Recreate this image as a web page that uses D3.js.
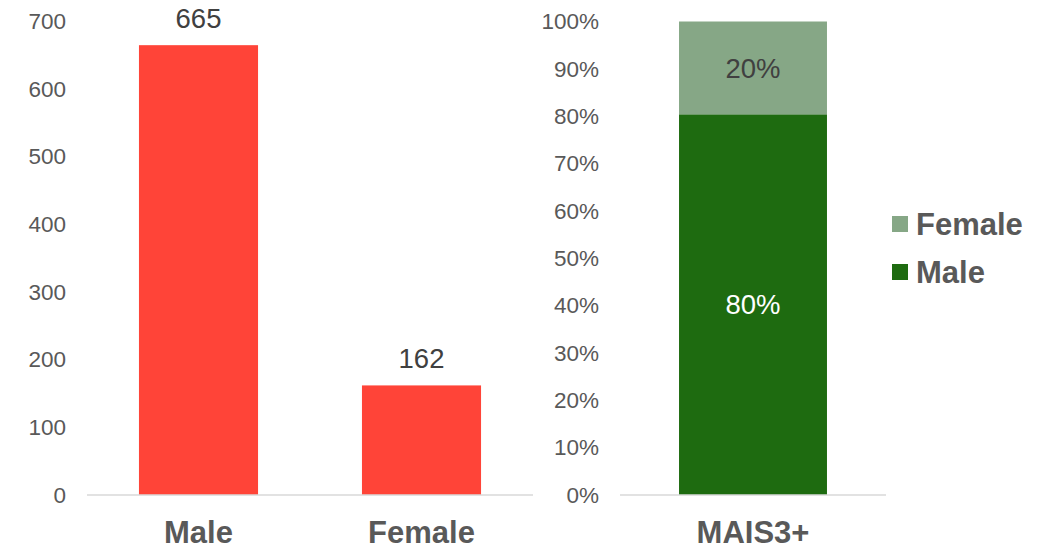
<!DOCTYPE html>
<html>
<head>
<meta charset="utf-8">
<script src="https://cdn.jsdelivr.net/npm/d3@7"></script>
<style>
  body { margin: 0; background: #fff; }
  svg { font-family: Arial, "Liberation Sans", sans-serif; display: block; }
</style>
</head>
<body>
<svg width="1043" height="549"></svg>
<script>
// left chart: counts
var countCats = ["Male", "Female"];
var countVals = [665, 162];
var countTicks = [0, 100, 200, 300, 400, 500, 600, 700];

// right chart: share within MAIS3+
var shareCats = ["MAIS3+"];
var shareSeries = ["Male", "Female"];
var shareVals = [80.4, 19.6];
var shareLabels = ["80%", "20%"];
var shareTicks = [0, 10, 20, 30, 40, 50, 60, 70, 80, 90, 100];
var legendOrder = ["Female", "Male"];

var svg = d3.select("svg");
var colors = { bar: "#FF4438", Male: "#1E6B10", Female: "#86A786" };
var plotBottom = 495, plotTop = 21.5; // "top" is taken by window.top

// ---- LEFT
var xL = d3.scaleBand().domain(countCats).range([87, 533]).paddingInner(0.466).paddingOuter(0.233);
var yL = d3.scaleLinear().domain([0, 700]).range([plotBottom, plotTop]);

var left = svg.append("g");
left.append("g")
  .attr("transform", "translate(66,0)")
  .call(d3.axisLeft(yL).tickValues(countTicks).tickSize(0).tickPadding(0))
  .call(function(g) { g.select(".domain").remove(); })
  .selectAll("text")
  .attr("font-size", 22.5).attr("fill", "#595959").attr("font-family", "Arial, 'Liberation Sans', sans-serif");

left.selectAll("rect.bar")
  .data(countVals)
  .enter().append("rect")
  .attr("class", "bar")
  .attr("x", function(d, i) { return xL(countCats[i]); })
  .attr("width", xL.bandwidth())
  .attr("y", function(d) { return yL(d); })
  .attr("height", function(d) { return plotBottom - yL(d); })
  .attr("fill", colors.bar);

left.selectAll("text.val")
  .data(countVals)
  .enter().append("text")
  .attr("class", "val")
  .attr("x", function(d, i) { return xL(countCats[i]) + xL.bandwidth() / 2; })
  .attr("y", function(d) { return yL(d) - 27; })
  .attr("dy", "0.35em")
  .attr("text-anchor", "middle")
  .attr("font-size", 27.5)
  .attr("fill", "#404040")
  .text(function(d) { return d; });

left.append("line")
  .attr("x1", 87).attr("x2", 533).attr("y1", plotBottom).attr("y2", plotBottom)
  .attr("stroke", "#D9D9D9").attr("stroke-width", 1.5);

left.selectAll("text.cat")
  .data(countCats)
  .enter().append("text")
  .attr("class", "cat")
  .attr("x", function(d) { return xL(d) + xL.bandwidth() / 2; })
  .attr("y", 532)
  .attr("dy", "0.35em")
  .attr("text-anchor", "middle")
  .attr("font-size", 31).attr("font-weight", "bold")
  .attr("fill", "#595959")
  .text(function(d) { return d; });

// ---- RIGHT
var xR = d3.scaleBand().domain(shareCats).range([620, 886]).paddingInner(0).paddingOuter(0.399);
var yR = d3.scaleLinear().domain([0, 100]).range([plotBottom, plotTop]);

var right = svg.append("g");
right.append("g")
  .attr("transform", "translate(599,0)")
  .call(d3.axisLeft(yR).tickValues(shareTicks).tickSize(0).tickPadding(0).tickFormat(function(d) { return d + "%"; }))
  .call(function(g) { g.select(".domain").remove(); })
  .selectAll("text")
  .attr("font-size", 22.5).attr("fill", "#595959").attr("font-family", "Arial, 'Liberation Sans', sans-serif");

var stacked = d3.stack().keys(shareSeries)([{ Male: shareVals[0], Female: shareVals[1] }]);

right.selectAll("rect.seg")
  .data(stacked)
  .enter().append("rect")
  .attr("class", "seg")
  .attr("x", xR(shareCats[0]))
  .attr("width", xR.bandwidth())
  .attr("y", function(s) { return yR(s[0][1]); })
  .attr("height", function(s) { return yR(s[0][0]) - yR(s[0][1]); })
  .attr("fill", function(s) { return colors[s.key]; });

right.selectAll("text.val")
  .data(stacked)
  .enter().append("text")
  .attr("class", "val")
  .attr("x", xR(shareCats[0]) + xR.bandwidth() / 2)
  .attr("y", function(s) { return (yR(s[0][0]) + yR(s[0][1])) / 2; })
  .attr("dy", "0.35em")
  .attr("text-anchor", "middle")
  .attr("font-size", 27.5)
  .attr("fill", function(s) { return s.key === "Male" ? "#ffffff" : "#404040"; })
  .text(function(s, i) { return shareLabels[i]; });

right.append("line")
  .attr("x1", 620).attr("x2", 886).attr("y1", plotBottom).attr("y2", plotBottom)
  .attr("stroke", "#D9D9D9").attr("stroke-width", 1.5);

right.selectAll("text.cat")
  .data(shareCats)
  .enter().append("text")
  .attr("class", "cat")
  .attr("x", function(d) { return xR(d) + xR.bandwidth() / 2; })
  .attr("y", 532)
  .attr("dy", "0.35em")
  .attr("text-anchor", "middle")
  .attr("font-size", 31).attr("font-weight", "bold")
  .attr("fill", "#595959")
  .text(function(d) { return d; });

// legend
var legend = svg.append("g").attr("transform", "translate(892,224)");
var item = legend.selectAll("g")
  .data(legendOrder)
  .enter().append("g")
  .attr("transform", function(d, i) { return "translate(0," + (i * 48) + ")"; });
item.append("rect")
  .attr("x", 0).attr("y", -8).attr("width", 16).attr("height", 16)
  .attr("fill", function(d) { return colors[d]; });
item.append("text")
  .attr("x", 24).attr("y", 0).attr("dy", "0.35em")
  .attr("font-size", 31).attr("font-weight", "bold")
  .attr("fill", "#595959")
  .text(function(d) { return d; });
</script>
</body>
</html>
